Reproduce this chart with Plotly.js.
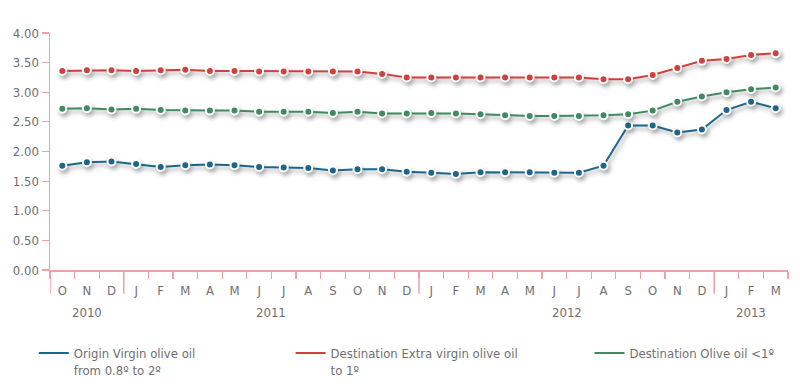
<!DOCTYPE html>
<html><head><meta charset="utf-8">
<script src="https://cdn.plot.ly/plotly-3.0.1.min.js"></script>
<style>
html,body{margin:0;padding:0;background:#fff;}
#chart{width:800px;height:389px;}
.scatterlayer .trace{filter:drop-shadow(2px 3px 2px rgba(0,0,0,0.35));}
</style></head>
<body><div id="chart"></div>
<script>
const months = ['O','N','D','J','F','M','A','M','J','J','A','S','O','N','D','J','F','M','A','M','J','J','A','S','O','N','D','J','F','M'];
const years = [2010,2010,2010,2011,2011,2011,2011,2011,2011,2011,2011,2011,2011,2011,2011,2012,2012,2012,2012,2012,2012,2012,2012,2012,2012,2012,2012,2013,2013,2013];
const originVirgin = [1.76,1.82,1.83,1.79,1.74,1.77,1.78,1.77,1.74,1.73,1.72,1.68,1.70,1.70,1.66,1.64,1.62,1.65,1.65,1.65,1.64,1.64,1.76,2.44,2.44,2.32,2.37,2.70,2.84,2.73];
const destExtra = [3.36,3.37,3.37,3.36,3.37,3.38,3.36,3.36,3.35,3.35,3.35,3.35,3.35,3.31,3.25,3.25,3.25,3.25,3.25,3.25,3.25,3.25,3.22,3.22,3.29,3.41,3.53,3.56,3.63,3.66];
const destOlive = [2.72,2.73,2.71,2.72,2.70,2.69,2.69,2.69,2.67,2.67,2.67,2.65,2.67,2.64,2.64,2.65,2.64,2.63,2.61,2.60,2.60,2.60,2.61,2.63,2.69,2.84,2.93,3.00,3.05,3.08];
const seriesNames = ['Origin Virgin olive oil<br>from 0.8º to 2º','Destination Extra virgin olive oil<br>to 1º','Destination Olive oil <1º'];
const colors = ['#1d6589','#d1403d','#3f8a5f'];
const yTicks = [0,0.5,1,1.5,2,2.5,3,3.5,4];

const FONT = '"Liberation Sans Narrow","DejaVu Sans Condensed","Roboto",sans-serif';
const TXT = '#6f6f6f';
const AX = '#eba3a3';

const idx = months.map((_, i) => i);
const data = [originVirgin, destExtra, destOlive];
const legendIds = ['legend','legend2','legend3'];
const traces = [];
data.forEach((ys, k) => {
  traces.push({x: idx, y: ys, type: 'scatter', mode: 'lines+markers', showlegend: false,
    line: {color: colors[k], width: 2},
    marker: {size: 8, color: colors[k], line: {color: '#fff', width: 2}}, hoverinfo: 'skip'});
});
data.forEach((ys, k) => {
  traces.push({x: [null], y: [null], type: 'scatter', mode: 'lines', name: seriesNames[k],
    legend: legendIds[k], line: {color: colors[k], width: 2}});
});

// year labels and boundaries
const uniqYears = [...new Set(years)];
const annotations = uniqYears.map(yr => {
  const ii = idx.filter(i => years[i] === yr);
  const c = (ii[0] + ii[ii.length - 1]) / 2;
  return {x: c, y: 0, xref: 'x', yref: 'paper', yanchor: 'middle', yshift: -42, text: String(yr), showarrow: false,
    font: {family: FONT, size: 13, color: TXT}};
});
const shapes = uniqYears.map(yr => {
  const first = years.indexOf(yr) - 0.5;
  return {type: 'line', xref: 'x', yref: 'paper', x0: first, x1: first, y0: 0, y1: -0.1,
    line: {color: AX, width: 1.5}};
});

const legBase = {orientation: 'v', valign: 'top', bgcolor: 'rgba(0,0,0,0)', y: -0.287, yanchor: 'top', xanchor: 'left',
  font: {family: FONT, size: 13, color: TXT}, tracegroupgap: 0};

const layout = {
  width: 800, height: 389,
  margin: {l: 50, r: 12, t: 33, b: 119, autoexpand: false},
  paper_bgcolor: '#fff', plot_bgcolor: '#fff',
  showlegend: true,
  font: {family: FONT, color: TXT, size: 12},
  xaxis: {range: [-0.5, months.length - 0.5], tickmode: 'array', tickvals: idx, ticktext: months,
    ticks: 'outside', ticklen: 8, tickcolor: 'rgba(0,0,0,0)', showgrid: false, zeroline: false,
    showline: true, linecolor: AX, linewidth: 1.5, automargin: false,
    tickfont: {family: FONT, size: 13, color: TXT},
    minor: {tickmode: 'linear', tick0: -0.5, dtick: 1, ticks: 'outside', ticklen: 7, tickcolor: AX, tickwidth: 1.2, showgrid: false},
    fixedrange: true},
  yaxis: {range: [0, 4], tickmode: 'array', tickvals: yTicks, ticktext: yTicks.map(v => v.toFixed(2)),
    ticks: 'outside', ticklen: 7, tickcolor: AX, tickwidth: 1.2, showgrid: false, zeroline: false,
    showline: true, linecolor: AX, linewidth: 1.5, automargin: false,
    tickfont: {family: FONT, size: 13, color: TXT}, fixedrange: true},
  legend: Object.assign({}, legBase, {x: -0.022}),
  legend2: Object.assign({}, legBase, {x: 0.326}),
  legend3: Object.assign({}, legBase, {x: 0.731}),
  annotations: annotations,
  shapes: shapes
};
Plotly.newPlot('chart', traces, layout, {displayModeBar: false, staticPlot: true});
</script>
</body></html>
